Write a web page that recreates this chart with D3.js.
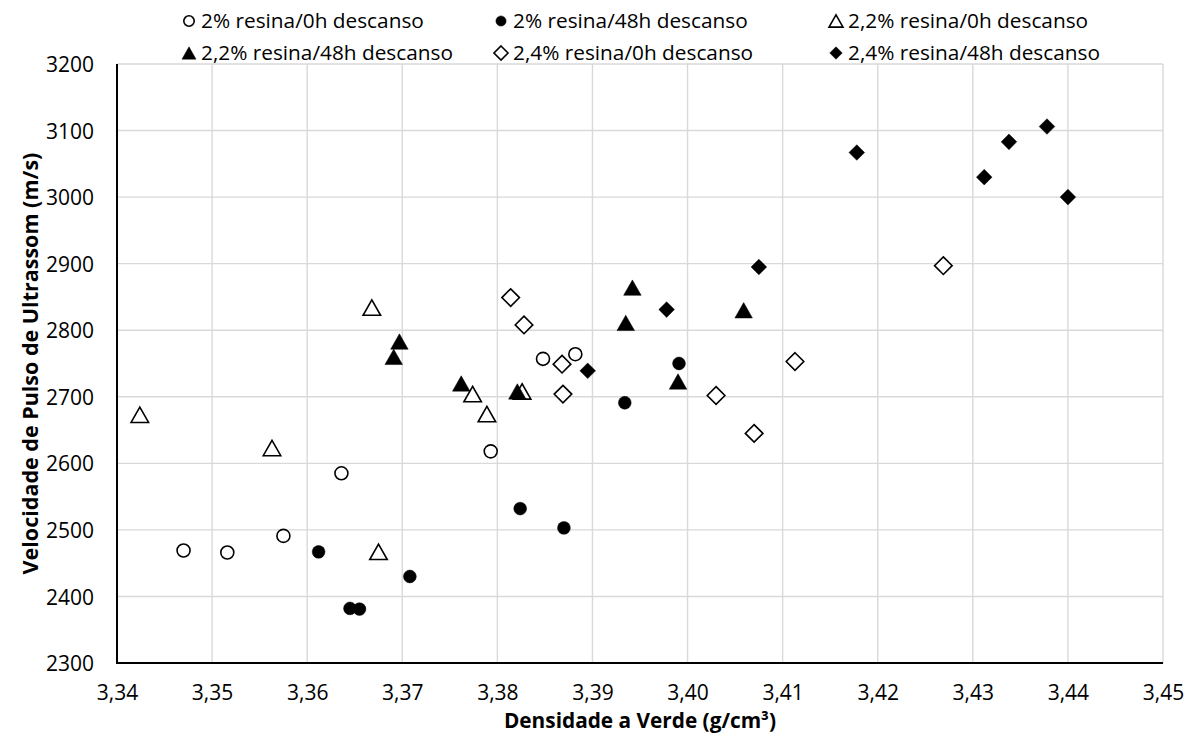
<!DOCTYPE html>
<html>
<head>
<meta charset="utf-8">
<script src="https://cdn.jsdelivr.net/npm/d3@7"></script>
<style>
  html, body { margin: 0; padding: 0; background: #fff; }
  svg { display: block; }
  text { font-family: "Open Sans", sans-serif; fill: #000; }
</style>
</head>
<body>
<svg id="chart" width="1195" height="744"></svg>
<script>
// ---- data ----
const seriesNames = [
  "2% resina/0h descanso",
  "2% resina/48h descanso",
  "2,2% resina/0h descanso",
  "2,2% resina/48h descanso",
  "2,4% resina/0h descanso",
  "2,4% resina/48h descanso"
];
const res2_0h = [[3.3470, 2469], [3.3516, 2466], [3.3575, 2491], [3.3636, 2585], [3.3793, 2618], [3.3848, 2757], [3.3882, 2764]];
const res2_48h = [[3.3612, 2467], [3.3645, 2382], [3.3655, 2381], [3.3708, 2430], [3.3824, 2532], [3.3870, 2503], [3.3934, 2691], [3.3991, 2750]];
const res22_0h = [[3.3424, 2673], [3.3563, 2623], [3.3668, 2834], [3.3675, 2467], [3.3774, 2704], [3.3789, 2674], [3.3826, 2708]];
const res22_48h = [[3.3691, 2760], [3.3697, 2783], [3.3762, 2720], [3.3821, 2708], [3.3935, 2811], [3.3942, 2864], [3.3990, 2723], [3.4059, 2830]];
const res24_0h = [[3.3814, 2849], [3.3828, 2808], [3.3868, 2749], [3.3869, 2704], [3.4030, 2702], [3.4070, 2645], [3.4113, 2753], [3.4269, 2897]];
const res24_48h = [[3.3895, 2739], [3.3978, 2831], [3.4075, 2895], [3.4178, 3067], [3.4312, 3030], [3.4338, 3083], [3.4378, 3106], [3.4400, 3000]];
const xTickValues = [3.34, 3.35, 3.36, 3.37, 3.38, 3.39, 3.40, 3.41, 3.42, 3.43, 3.44, 3.45];
const yTickValues = [2300, 2400, 2500, 2600, 2700, 2800, 2900, 3000, 3100, 3200];
const xTitle = "Densidade a Verde (g/cm³)";
const yTitle = "Velocidade de Pulso de Ultrassom (m/s)";

// ---- layout ----
const svg = d3.select("#chart");
const L = 117, R = 1163, T = 64, B = 663;
const x = d3.scaleLinear().domain([3.34, 3.45]).range([L, R]);
const y = d3.scaleLinear().domain([2300, 3200]).range([B, T]);
const fmtX = v => d3.format(".2f")(v).replace(".", ",");

// gridlines
const grid = svg.append("g");
grid.selectAll("line.gx").data(xTickValues.slice(1)).enter().append("line")
  .attr("x1", d => x(d)).attr("x2", d => x(d)).attr("y1", T).attr("y2", B)
  .attr("stroke", "#d9d9d9").attr("stroke-width", 1.4);
grid.selectAll("line.gy").data(yTickValues.slice(1)).enter().append("line")
  .attr("x1", L).attr("x2", R).attr("y1", d => y(d)).attr("y2", d => y(d))
  .attr("stroke", "#d9d9d9").attr("stroke-width", 1.4);

// axes via d3
const xAxis = d3.axisBottom(x).tickValues(xTickValues).tickFormat(fmtX).tickSize(0).tickPadding(0);
const yAxis = d3.axisLeft(y).tickValues(yTickValues).tickFormat(d3.format("d")).tickSize(0).tickPadding(0);

const gx = svg.append("g").attr("transform", `translate(0,${B})`).call(xAxis);
gx.select(".domain").remove();
gx.selectAll("text").attr("font-size", 21).attr("font-family", "Open Sans")
  .attr("fill", "#000").attr("dy", null).attr("y", 37);

const gy = svg.append("g").attr("transform", `translate(${L},0)`).call(yAxis);
gy.select(".domain").remove();
gy.selectAll("text").attr("font-size", 21).attr("font-family", "Open Sans")
  .attr("fill", "#000").attr("dy", "0.36em").attr("x", -23);

// axis lines
svg.append("line").attr("x1", L).attr("x2", L).attr("y1", T).attr("y2", B + 1)
  .attr("stroke", "#000").attr("stroke-width", 2);
svg.append("line").attr("x1", L - 1).attr("x2", R).attr("y1", B).attr("y2", B)
  .attr("stroke", "#000").attr("stroke-width", 2);

// axis titles
svg.append("text").attr("x", (L + R) / 2).attr("y", 728).attr("text-anchor", "middle")
  .attr("font-size", 20.8).attr("font-weight", "bold").text(xTitle);
svg.append("text").attr("transform", `translate(38,${(T + B) / 2}) rotate(-90)`)
  .attr("text-anchor", "middle").attr("font-size", 21.5).attr("font-weight", "bold").text(yTitle);

// ---- markers ----
function markerPath(shape, s) {
  if (shape === "circle") {
    const r = s;
    return `M${-r},0A${r},${r} 0 1,0 ${r},0A${r},${r} 0 1,0 ${-r},0Z`;
  }
  if (shape === "triangle") {
    const w = s * 1.25, h = s * 1.1;
    return `M0,${-h}L${w},${h}L${-w},${h}Z`;
  }
  // diamond
  return `M0,${-s}L${s},0L0,${s}L${-s},0Z`;
}
const styles = [
  { data: res2_0h, shape: "circle", filled: false, size: 6.5 },
  { data: res2_48h, shape: "circle", filled: true, size: 6.4 },
  { data: res22_0h, shape: "triangle", filled: false, size: 7.0 },
  { data: res22_48h, shape: "triangle", filled: true, size: 7.0 },
  { data: res24_0h, shape: "diamond", filled: false, size: 8.8 },
  { data: res24_48h, shape: "diamond", filled: true, size: 7.8 }
];

const pts = svg.append("g");
styles.forEach(st => {
  pts.selectAll(null).data(st.data).enter().append("path")
    .attr("transform", d => `translate(${x(d[0])},${y(d[1])})`)
    .attr("d", markerPath(st.shape, st.size))
    .attr("fill", st.filled ? "#000" : "#fff")
    .attr("stroke", "#000")
    .attr("stroke-width", st.filled ? 0.5 : 1.6)
    .attr("stroke-linejoin", "miter");
});

// ---- legend ----
const legendCols = [189, 501, 836];
const legendRows = [21, 53];
const leg = svg.append("g");
seriesNames.forEach((name, i) => {
  const st = styles[i];
  const cx = legendCols[i % 3], cy = legendRows[Math.floor(i / 3)];
  leg.append("path")
    .attr("transform", `translate(${cx},${cy})`)
    .attr("d", markerPath(st.shape, st.size * 0.8))
    .attr("fill", st.filled ? "#000" : "#fff")
    .attr("stroke", "#000")
    .attr("stroke-width", st.filled ? 0.5 : 1.6);
  leg.append("text").attr("x", cx + 12).attr("y", cy).attr("dy", "0.36em")
    .attr("font-size", 20.8).text(name);
});
</script>
</body>
</html>
